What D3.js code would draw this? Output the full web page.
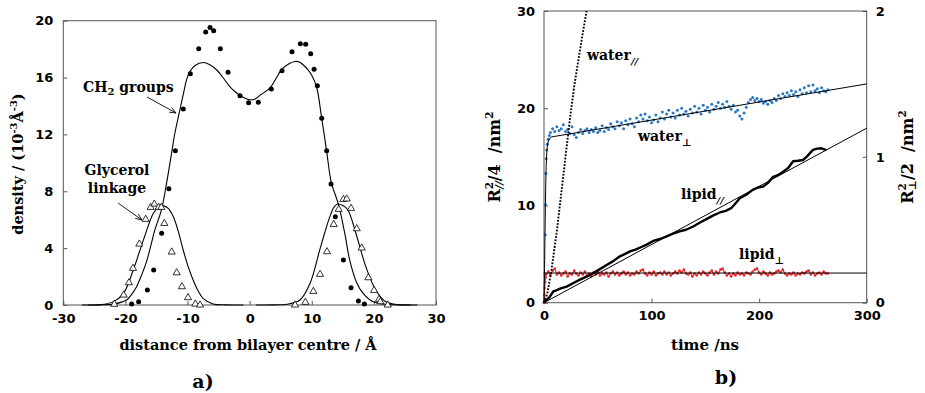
<!DOCTYPE html>
<html><head><meta charset="utf-8">
<script src="https://cdn.jsdelivr.net/npm/d3@7"></script>
<style>body{margin:0;background:#fff}svg{display:block}</style>
</head><body>
<svg id="c" width="925" height="393"></svg>
<script>
// ---------- Panel a data ----------
const xTicksA = [-30,-20,-10,0,10,20,30];
const yTicksA = [0,4,8,12,16,20];
const ch2X = [-19.0,-17.87,-16.47,-15.45,-14.17,-13.0,-11.96,-10.68,-9.55,-8.2,-7.08,-6.38,-5.79,-4.72,-3.48,-1.55,-0.16,1.4,3.49,5.21,6.82,8.16,9.02,9.83,10.37,10.9,11.6,12.4,13.1,13.8,15.09,16.32,17.5,18.47];
const ch2Y = [0.07,0.23,1.05,2.46,5.04,8.18,10.86,13.79,16.27,18.03,19.2,19.53,19.3,18.03,16.37,14.72,14.23,14.26,15.19,16.48,17.82,18.38,18.34,17.68,16.58,15.43,13.13,10.86,8.51,6.21,3.17,1.22,0.28,0.07];
const glyX = [-21.79,-20.28,-19.43,-18.78,-17.76,-16.74,-15.94,-15.35,-14.65,-14.22,-13.74,-12.55,-11.75,-10.9,-9.92,-8.74,-7.99,7.3,8.97,10.26,11.33,12.46,13.53,14.34,15.09,15.63,16.32,17.24,18.04,19.11,20.03,20.83,21.05,22.23];
const glyY = [0.05,0.7,1.57,2.58,4.29,6.03,6.87,7.1,6.87,6.87,5.74,3.73,2.27,1.29,0.52,0.07,0.0,0.0,0.19,0.96,2.16,3.75,5.67,6.73,7.43,7.46,6.8,5.37,4.01,1.92,1.03,0.4,0.23,0.0];
const ch2FitX = [-27,-24,-22,-20.5,-19.8,-19,-18.2,-17.4,-16.6,-15.9,-15.26,-14.2,-13.4,-12.56,-12.03,-11.23,-10.6,-10.15,-9.62,-8.8,-7.48,-6.4,-5.33,-4.2,-3.19,-2.2,-1.3,0,0.9,1.8,3.25,4.2,5.13,6.47,7.27,8.0,8.6,9.3,9.95,10.76,11.56,12.37,13.17,14.24,15.31,16.1,17.2,18.2,19.8,22,24,27];
const ch2FitY = [0,0.01,0.06,0.22,0.35,0.75,1.29,2.1,3.05,4.2,5.28,6.69,8.5,10.7,12.1,13.73,15.0,15.85,16.43,16.85,17.06,16.9,16.55,15.95,15.37,14.95,14.67,14.44,14.5,14.8,15.26,15.9,16.55,17.0,17.13,17.1,16.9,16.6,16.2,15.37,13.26,10.9,8.57,7.16,5.05,3.17,1.6,0.85,0.25,0.04,0.01,0];
const glyFitLX = [-26,-24.1,-22,-20.3,-18.74,-17.1,-15.5,-14.6,-13.9,-13.1,-12.3,-11.5,-10.7,-9.9,-9.1,-8.3,-7.5,-5.9,-3.8,-1];
const glyFitLY = [0,0.02,0.22,0.82,2.46,4.58,6.46,6.9,6.97,6.8,6.22,5.2,3.87,2.7,1.76,1.0,0.47,0.07,0.01,0];
const glyFitRX = [1,4,6.0,8.1,9.7,11.3,12.1,12.9,13.6,14.2,15.0,15.8,17.1,18.7,20.3,21.9,24.1,26];
const glyFitRY = [0,0.01,0.05,0.35,1.5,3.9,5.1,6.2,6.9,7.1,7.0,6.7,5.05,2.7,1.05,0.23,0.02,0];

// ---------- Panel b data ----------
const xTicksB = [0,100,200,300];
const yTicksBL = [0,10,20,30];
const yTicksBR = [0,1,2];
// [time ns, value on left-axis units]
const waterPerpData = [[0,0],[0.5,3.0],[1,7.0],[1.3,10.1],[1.6,13.3],[2,14.8],[2.5,15.7],[3,16.3],[4,16.8],[5,17.2],[6,17.5],
[8,17.9],[10,17.6],[12,18.1],[14,17.7],[16,17.9],[18,18.3],[20,17.6],[22,17.8],[24,17.4],[26,18.1],[28,17.3],[30,17.0],[32,17.5],[34,17.8],[36,17.4],[38,17.7],[40,17.9],[42,17.5],[44,17.8],[46,17.6],[48,18.0],[50,17.5],[52,17.7],[54,18.2],[56,17.6],[58,18.0],[60,17.8],[62,18.4],[64,18.1],[66,17.9],[68,18.6],[70,18.2],[72,18.5],[74,17.9],[76,18.7],[78,18.3],[80,18.9],[82,18.4],[84,18.1],[86,19.0],[88,18.6],[90,19.3],[92,18.9],[94,19.4],[96,18.7],[98,19.1],[100,18.5],[102,18.8],[104,19.3],[106,18.6],[108,19.0],[110,19.6],[112,18.9],[114,19.4],[116,19.8],[118,19.1],[120,19.5],[122,19.0],[124,19.8],[126,19.3],[128,20.0],[130,19.4],[132,19.7],[134,19.2],[136,19.9],[138,19.5],[140,20.2],[142,19.6],[144,20.0],[146,19.4],[148,20.3],[150,19.8],[152,20.1],[154,19.6],[156,20.4],[158,19.9],[160,20.2],[162,20.6],[164,20.0],[166,20.4],[168,20.1],[170,20.7],[172,20.2],[174,19.9],[176,20.3],[178,19.6],[180,19.8],[182,19.2],[184,18.9],[186,19.5],[188,20.1],[190,20.6],[192,20.9],[194,21.1],[196,20.8],[198,21.0],[200,20.7],[202,20.9],[204,20.5],[206,20.7],[208,20.4],[210,20.8],[212,20.6],[214,21.0],[216,20.8],[218,21.3],[220,21.0],[222,21.5],[224,21.2],[226,21.6],[228,21.3],[230,21.8],[232,21.4],[234,21.7],[236,21.2],[238,21.9],[240,21.5],[242,22.1],[244,21.6],[246,22.3],[248,21.7],[250,22.4],[252,21.8],[254,22.0],[256,21.6],[258,22.1],[260,21.8],[262,21.7],[264,21.9]];
const lipidPerpData = [[0,0],[0.3,0.8],[0.6,1.5],[1,2.1],[1.5,2.6],
[2,2.9],[4,3.2],[6,2.8],[8,3.3],[10,3.5],[12,2.9],[14,3.1],[16,2.8],[18,3.0],[20,3.2],[22,2.7],[24,3.0],[26,2.9],[28,3.3],[30,3.0],[32,2.8],[34,3.1],[36,2.9],[38,3.2],[40,2.8],[42,3.0],[44,2.7],[46,3.1],[48,2.9],[50,3.2],[52,2.8],[54,3.0],[56,2.9],[58,3.1],[60,2.7],[62,3.0],[64,3.2],[66,2.9],[68,3.1],[70,2.8],[72,3.0],[74,3.2],[76,2.9],[78,3.1],[80,2.8],[82,3.0],[84,2.9],[86,3.2],[88,3.0],[90,3.3],[92,3.4],[94,3.0],[96,2.8],[98,3.1],[100,2.9],[102,3.2],[104,2.8],[106,3.0],[108,3.1],[110,2.9],[112,3.2],[114,2.9],[116,3.1],[118,2.8],[120,3.0],[122,3.2],[124,3.0],[126,3.3],[128,3.1],[130,3.4],[132,3.0],[134,2.9],[136,3.1],[138,2.7],[140,3.0],[142,2.8],[144,3.1],[146,2.9],[148,3.2],[150,3.0],[152,2.8],[154,3.1],[156,3.3],[158,2.9],[160,3.2],[162,3.0],[164,3.4],[166,3.5],[168,3.1],[170,2.8],[172,3.0],[174,2.7],[176,3.0],[178,2.8],[180,3.1],[182,2.9],[184,3.0],[186,2.8],[188,3.1],[190,3.0],[192,2.9],[194,3.2],[196,3.4],[198,3.5],[200,3.1],[202,2.9],[204,3.2],[206,3.0],[208,2.8],[210,3.1],[212,2.9],[214,3.0],[216,3.2],[218,3.3],[220,3.1],[222,3.4],[224,3.0],[226,2.8],[228,3.0],[230,2.9],[232,3.1],[234,2.8],[236,3.0],[238,2.9],[240,3.1],[242,3.0],[244,3.2],[246,3.3],[248,2.9],[250,3.1],[252,2.8],[254,3.0],[256,3.1],[258,2.9],[260,3.2],[262,3.0],[264,3.0]];
const lipidParData = [[0,0],[2,0.25],[5,0.55],[8.7,1.17],[12,1.3],[15,1.45],[21,1.66],[27,2.0],[33.4,2.37],[40,2.7],[45.8,3.04],[52,3.45],[58.2,3.88],[64,4.25],[70.6,4.77],[75,5.0],[80,5.28],[85,5.45],[90,5.7],[95,5.95],[101.5,6.35],[108,6.55],[114,6.82],[120,7.1],[126,7.34],[132,7.5],[138.7,7.84],[145,8.25],[151,8.6],[157,8.95],[163.5,9.28],[169,9.45],[174,9.72],[178,10.2],[182,10.74],[188,11.1],[194,11.6],[199,11.85],[203.7,11.94],[208,12.3],[213,12.95],[218,13.15],[222,13.45],[227,13.85],[231.6,14.55],[236,14.6],[241,14.68],[245,15.1],[250,15.72],[254,15.85],[258,15.88],[262.5,15.7]];
const waterParData = [[0,0],[3,0.9],[7,3.4],[12,7.4],[16,11.2],[20,15.0],[24,18.8],[28,22.2],[32,25.0],[36,27.7],[39.6,30]];
const waterPerpFit = [[0,0],[0.5,3.5],[1,7.5],[1.5,11.5],[2,14],[2.5,15.3],[3,16],[4,16.6],[5,16.85],[7,17.05],[300,22.5]];
const lipidPerpFit = [[0,3.05],[300,3.05]];
const lipidParFit = [[0,0],[300,17.95]];

// ---------- drawing ----------
const svg = d3.select("#c");
const serif = "'DejaVu Serif', serif", sans = "'DejaVu Sans', sans-serif";
const frameCol = "#555";

function styleAxis(g){
  g.select(".domain").remove();
  g.selectAll(".tick line").attr("stroke", frameCol);
  g.selectAll(".tick text").attr("font-family", sans).attr("font-weight","bold").attr("font-size",13).attr("fill","#000");
}
const fmt = d => String(d);

// Panel a
const ax = d3.scaleLinear().domain([-30,30]).range([63.3,436]);
const ay = d3.scaleLinear().domain([0,20]).range([305,20.7]);
const pa = svg.append("g");
pa.append("g").attr("transform","translate(0,305)")
  .call(d3.axisBottom(ax).tickValues(xTicksA).tickFormat(fmt).tickSizeInner(-4).tickSizeOuter(0).tickPadding(9)).call(styleAxis);
pa.append("g").attr("transform","translate(63.3,0)")
  .call(d3.axisLeft(ay).tickValues(yTicksA).tickFormat(fmt).tickSizeInner(-4).tickSizeOuter(0).tickPadding(10)).call(styleAxis);
pa.append("rect").attr("x",ax(-30)).attr("y",ay(20)).attr("width",ax(30)-ax(-30)).attr("height",ay(0)-ay(20))
  .attr("fill","none").attr("stroke",frameCol);

const lineA = d3.line().x(d=>ax(d[0])).y(d=>ay(d[1])).curve(d3.curveCatmullRom);
const zip = (a,b) => a.map((v,i)=>[v,b[i]]);
[[ch2FitX,ch2FitY],[glyFitLX,glyFitLY],[glyFitRX,glyFitRY]].forEach(([xs,ys])=>{
  pa.append("path").attr("d", lineA(zip(xs,ys))).attr("fill","none").attr("stroke","#000").attr("stroke-width",1.1);
});
pa.selectAll("circle.ch2").data(zip(ch2X,ch2Y)).join("circle").attr("class","ch2")
  .attr("cx",d=>ax(d[0])).attr("cy",d=>ay(d[1])).attr("r",2.5).attr("fill","#000");
const tri = d3.symbol().type(d3.symbolTriangle).size(22);
pa.selectAll("path.gly").data(zip(glyX,glyY)).join("path").attr("class","gly")
  .attr("transform",d=>`translate(${ax(d[0])},${ay(d[1])})`).attr("d",tri())
  .attr("fill","#fff").attr("stroke","#000").attr("stroke-width",0.8);

function arrow(g,x1,y1,x2,y2){
  g.append("line").attr("x1",x1).attr("y1",y1).attr("x2",x2).attr("y2",y2).attr("stroke","#000").attr("stroke-width",0.9);
  const a = Math.atan2(y2-y1,x2-x1), L=7, w=0.38;
  const p1=[x2-L*Math.cos(a-w), y2-L*Math.sin(a-w)], p2=[x2-L*Math.cos(a+w), y2-L*Math.sin(a+w)];
  g.append("path").attr("d",`M${p1}L${x2},${y2}L${p2}`).attr("fill","none").attr("stroke","#000").attr("stroke-width",0.9);
}
const tA = pa.append("g").attr("font-family",serif).attr("font-weight","bold").attr("font-size",14).attr("fill","#000");
const ch2t = tA.append("text").attr("x",83).attr("y",92);
ch2t.append("tspan").text("CH");
ch2t.append("tspan").attr("font-size",10).attr("dy",3).text("2");
ch2t.append("tspan").attr("dy",-3).text(" groups");
arrow(tA,147,97,176,113);
tA.append("text").attr("x",117).attr("y",175).attr("text-anchor","middle").text("Glycerol");
tA.append("text").attr("x",117).attr("y",193).attr("text-anchor","middle").text("linkage");
arrow(tA,118,203,142,220);

tA.append("text").attr("x",248).attr("y",350).attr("text-anchor","middle").attr("font-size",14.5).text("distance from bilayer centre / Å");
const yl = tA.append("text").attr("transform","translate(23,164) rotate(-90)").attr("text-anchor","middle").attr("font-size",14.5);
yl.append("tspan").text("density / (10");
yl.append("tspan").attr("font-size",10).attr("dy",-6).text("-3");
yl.append("tspan").attr("dy",6).text("Å");
yl.append("tspan").attr("font-size",10).attr("dy",-6).text("-3");
yl.append("tspan").attr("dy",6).text(")");
tA.append("text").attr("x",203).attr("y",388).attr("text-anchor","middle").attr("font-size",19).text("a)");

// Panel b
const bx = d3.scaleLinear().domain([0,300]).range([544,866.7]);
const byL = d3.scaleLinear().domain([0,30]).range([302.7,11]);
const byR = d3.scaleLinear().domain([0,2]).range([302.7,11]);
const pb = svg.append("g");
pb.append("g").attr("transform","translate(0,302.7)")
  .call(d3.axisBottom(bx).tickValues(xTicksB).tickFormat(fmt).tickSizeInner(-4).tickSizeOuter(0).tickPadding(8.5)).call(styleAxis);
pb.append("g").attr("transform","translate(544,0)")
  .call(d3.axisLeft(byL).tickValues(yTicksBL).tickFormat(fmt).tickSizeInner(-4).tickSizeOuter(0).tickPadding(9)).call(styleAxis);
pb.append("g").attr("transform","translate(866.7,0)")
  .call(d3.axisRight(byR).tickValues(yTicksBR).tickFormat(fmt).tickSizeInner(-4).tickSizeOuter(0).tickPadding(9)).call(styleAxis);
pb.append("rect").attr("x",bx(0)).attr("y",byL(30)).attr("width",bx(300)-bx(0)).attr("height",byL(0)-byL(30))
  .attr("fill","none").attr("stroke",frameCol);

const lineB = d3.line().x(d=>bx(d[0])).y(d=>byL(d[1]));
const plot = pb.append("g");
const blue = "#2b78c2", red = "#e8262a";
plot.selectAll("circle.w").data(waterPerpData).join("circle").attr("class","w")
  .attr("cx",d=>bx(d[0])).attr("cy",d=>byL(d[1])).attr("r",1.5).attr("fill",blue);
plot.append("path").attr("d",lineB(lipidPerpData)).attr("fill","none").attr("stroke",red).attr("stroke-width",1.1);
plot.selectAll("circle.l").data(lipidPerpData).join("circle").attr("class","l")
  .attr("cx",d=>bx(d[0])).attr("cy",d=>byL(d[1])).attr("r",1.3).attr("fill",red);
plot.append("path").attr("d",lineB(lipidParData)).attr("fill","none").attr("stroke","#000").attr("stroke-width",2.4).attr("stroke-linejoin","round");
[waterPerpFit, lipidPerpFit, lipidParFit].forEach(f=>{
  plot.append("path").attr("d",lineB(f)).attr("fill","none").attr("stroke","#000").attr("stroke-width",1);
});
plot.append("path").attr("d",lineB(waterParData)).attr("fill","none").attr("stroke","#000").attr("stroke-width",1.9).attr("stroke-dasharray","1.8,1.5");

const tB = pb.append("g").attr("font-family",serif).attr("font-weight","bold").attr("font-size",14).attr("fill","#000");
function subLabel(x,y,main,sub,italic){
  const t = tB.append("text").attr("x",x).attr("y",y);
  t.append("tspan").text(main);
  t.append("tspan").attr("font-size",10).attr("dy",5).attr("font-style",italic?"italic":null).text(sub);
}
subLabel(587,60,"water","//",true);
subLabel(638,141,"water","\u22a5",false);
subLabel(681,199,"lipid","//",true);
subLabel(739,259,"lipid","\u22a5",false);

tB.append("text").attr("x",705).attr("y",350).attr("text-anchor","middle").attr("font-size",15).text("time /ns");
function rLabel(x,y,sub,tail){
  const t = tB.append("text").attr("transform",`translate(${x},${y}) rotate(-90)`).attr("text-anchor","middle").attr("font-size",16);
  t.append("tspan").text("R");
  t.append("tspan").attr("font-size",10.5).attr("dy",-7).text("2");
  t.append("tspan").attr("font-size",10.5).attr("dx",-7).attr("dy",10).attr("font-style","italic").text(sub);
  t.append("tspan").attr("dy",-3).text(tail + "\u00a0\u00a0/nm");
  t.append("tspan").attr("font-size",10.5).attr("dy",-7).text("2");
}
rLabel(500,157,"//","/4");
rLabel(913,157,"\u22a5","/2");
tB.append("text").attr("x",726).attr("y",384).attr("text-anchor","middle").attr("font-size",19).text("b)");
</script>
</body></html>
